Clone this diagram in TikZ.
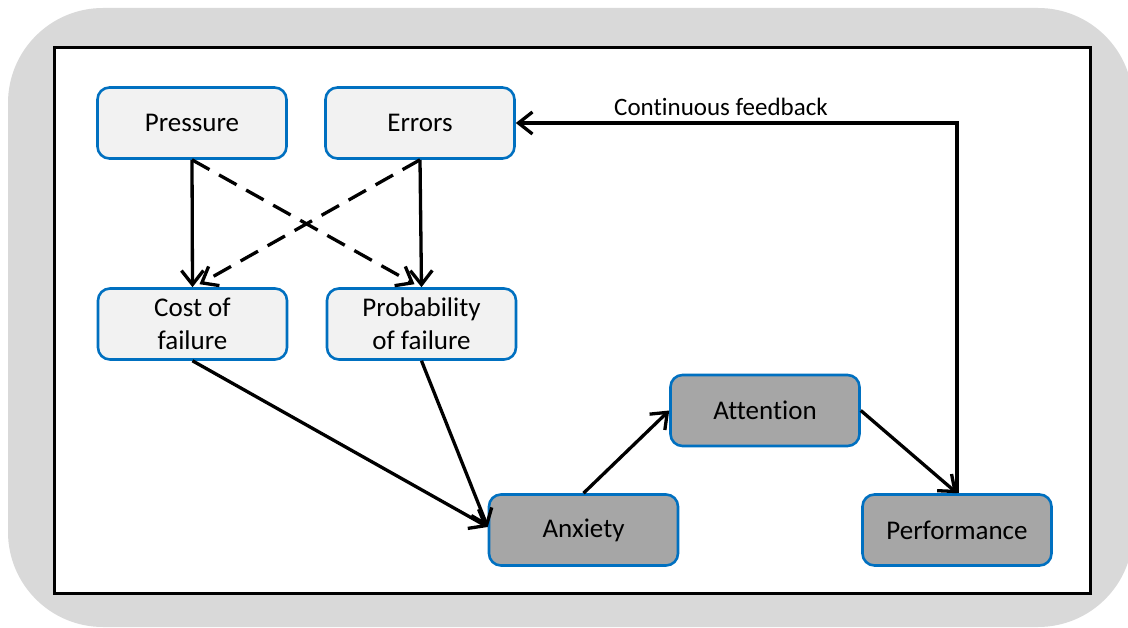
\documentclass[tikz,border=0pt]{standalone}
\usepackage{fontspec}
\setmainfont[RawFeature=-liga]{Carlito}
\usetikzlibrary{arrows.meta}
\definecolor{bggrey}{HTML}{D9D9D9}
\definecolor{boxblue}{HTML}{0070C0}
\definecolor{lightfill}{HTML}{F2F2F2}
\definecolor{darkfill}{HTML}{A6A6A6}
\begin{document}
\begin{tikzpicture}[x=1pt,y=-1pt,
  box/.style={draw=boxblue, line width=2.6pt, rounded corners=12pt,
    minimum width=189pt, minimum height=71pt, inner sep=0pt, align=center,
    font=\fontsize{27}{33}\selectfont, text=black},
  lightbox/.style={box, fill=lightfill},
  darkbox/.style={box, fill=darkfill},
  arr/.style={line width=3.3pt, -{Straight Barb[length=14pt,width=22pt]}},
  dasharr/.style={arr, dash pattern=on 20pt off 11pt},
  lbl/.style={font=\fontsize{25}{30}\selectfont, text=black, inner sep=0pt}]
\useasboundingbox (0,0) rectangle (1128,628);
\fill[bggrey, rounded corners=95pt] (8,8) rectangle (1133,627);
\draw[fill=white, line width=3pt] (54,48) rectangle (1090,593);

\node[lightbox] (pressure) at (192,123) {Pressure};
\node[lightbox] (errors) at (420,123) {Errors};
\node[lightbox] (cost) at (192.5,324) {Cost of\\failure};
\node[lightbox] (prob) at (421.5,324) {Probability\\of failure};
\node[darkbox] (anxiety) at (583.5,530) {Anxiety};
\node[darkbox] (attention) at (765,410.5) {Attention};
\node[darkbox] (performance) at (957,530) {Performance};

\draw[arr] (pressure.south) -- (cost.north);
\draw[arr] (errors.south) -- (prob.north);
\draw[dasharr] (pressure.south) -- ([xshift=-7pt,yshift=3pt]prob.north);
\draw[dasharr] (errors.south) -- ([xshift=7pt,yshift=3pt]cost.north);
\draw[arr] (cost.south) -- ([yshift=3pt]anxiety.west);
\draw[arr] (prob.south) -- ([yshift=3pt]anxiety.west);
\draw[arr] (anxiety.north) -- (attention.west);
\draw[arr] (attention.east) -- (performance.north);
\draw[arr] (performance.north) |- (errors.east);
\node[lbl] (fb) at (721,107) {Continuous feedback};
\end{tikzpicture}
\end{document}
